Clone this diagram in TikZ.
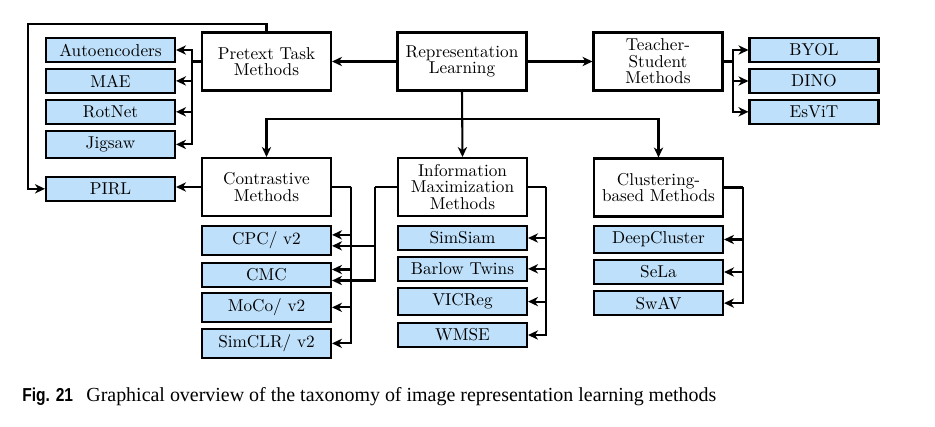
\documentclass[tikz,border=0pt]{standalone}
\usepackage{fontspec}
\usetikzlibrary{arrows.meta}
\newfontfamily\capserif{Liberation Serif}
\newfontfamily\capsans{Liberation Sans}
\definecolor{leafblue}{RGB}{190,224,250}
\tikzset{
  catbox/.style={draw, very thick, fill=white, minimum width=75pt, minimum height=33.7pt,
    align=center, font=\fontsize{10}{9.6}\selectfont},
  leafbox/.style={draw, very thick, fill=leafblue, minimum width=75pt, anchor=north,
    font=\fontsize{10}{12}\selectfont},
  arr/.style={very thick, -{Stealth[length=5.8pt,width=5.4pt,inset=1.8pt]}},
  ln/.style={very thick},
  capt/.style={anchor=base west, inner sep=0pt}
}
\begin{document}
\begin{tikzpicture}[x=0.5814pt,y=-0.5814pt]
\useasboundingbox (0,0) rectangle (935,427);
% category boxes
\node[catbox] (rl) at (462,61.5) {Representation\\Learning};
\node[catbox] (pt) at (266.5,61.5) {Pretext Task\\Methods};
\node[catbox] (ts) at (658,61.5) {Teacher-\\Student\\Methods};
\node[catbox] (con) at (266.5,187) {Contrastive\\Methods};
\node[catbox] (im) at (462.5,187) {Information\\Maximization\\Methods};
\node[catbox] (cl) at (658.5,187.5) {Clustering-\\based Methods};
% leaves
\node[leafbox] (ae) at (110.5,37) {Autoencoders};
\node[leafbox] (mae) at (110.5,68) {MAE};
\node[leafbox] (rot) at (110.5,99) {RotNet};
\node[leafbox] (jig) at (110.5,130) {Jigsaw};
\node[leafbox] (pirl) at (110.5,176) {PIRL};
\node[leafbox] (byol) at (814,37) {BYOL};
\node[leafbox] (dino) at (814,68) {DINO};
\node[leafbox] (esvit) at (814,99) {EsViT};
\node[leafbox] (cpc) at (266.5,225) {CPC/ v2};
\node[leafbox] (cmc) at (266.5,262) {CMC};
\node[leafbox] (moco) at (266.5,292) {MoCo/ v2};
\node[leafbox] (simclr) at (266.5,328) {SimCLR/ v2};
\node[leafbox] (sims) at (462.5,225) {SimSiam};
\node[leafbox] (barlow) at (462.5,256) {Barlow Twins};
\node[leafbox] (vic) at (462.5,287) {VICReg};
\node[leafbox] (wmse) at (462.5,322) {WMSE};
\node[leafbox] (dc) at (658.5,225) {DeepCluster};
\node[leafbox] (sela) at (658.5,259) {SeLa};
\node[leafbox] (swav) at (658.5,290) {SwAV};
% top level connectors
\draw[arr] (rl.west) -- (pt.east);
\draw[arr] (rl.east) -- (ts.west);
\draw[ln] (rl.south) -- ++(0,27.5) coordinate (hub);
\draw[arr] (rl.south) -- (im.north);
\draw[arr] (hub) -| (con.north);
\draw[arr] (hub) -| (cl.north);
% pretext
\draw[ln] (pt.west) -- ++(-9,0) coordinate (pb);
\foreach \n in {ae,mae,rot,jig} \draw[arr] (pb) |- (\n.east);
\coordinate (lp) at (28,24);
\draw[arr] (pt.north) |- (lp) |- (pirl.west);
\draw[arr] (con.west) -- (con.west -| pirl.east);
% teacher-student
\draw[ln] (ts.east) -- ++(9,0) coordinate (tb);
\foreach \n in {byol,dino,esvit} \draw[arr] (tb) |- (\n.west);
% contrastive
\draw[ln] (con.east) -- ++(19,0) coordinate (cb);
\draw[arr] (cb) |- ([yshift=3.2pt]cpc.east);
\draw[arr] (cb) |- ([yshift=3.2pt]cmc.east);
\draw[arr] (cb) |- (moco.east);
\draw[arr] (cb) |- (simclr.east);
% information maximization
\draw[ln] (im.west) -- ++(-22,0) coordinate (ib);
\draw[arr] (ib) |- ([yshift=-3.2pt]cpc.east);
\draw[arr] (ib) |- ([yshift=-3.2pt]cmc.east);
\draw[ln] (im.east) -- ++(18,0) coordinate (ir);
\foreach \n in {sims,barlow,vic,wmse} \draw[arr] (ir) |- (\n.east);
% clustering
\draw[ln] (cl.east) -- ++(19,0) coordinate (clb);
\foreach \n in {dc,sela,swav} \draw[arr] (clb) |- (\n.east);
% caption
\node[capt] (figlab) at (22,401) {\fontsize{10.9}{12}\capsans\bfseries\scalebox{0.83}[1]{Fig. 21}};
\node[capt] (cap) at (86,401) {\fontsize{11.6}{13}\capserif Graphical overview of the taxonomy of image representation learning methods};
\end{tikzpicture}
\end{document}
